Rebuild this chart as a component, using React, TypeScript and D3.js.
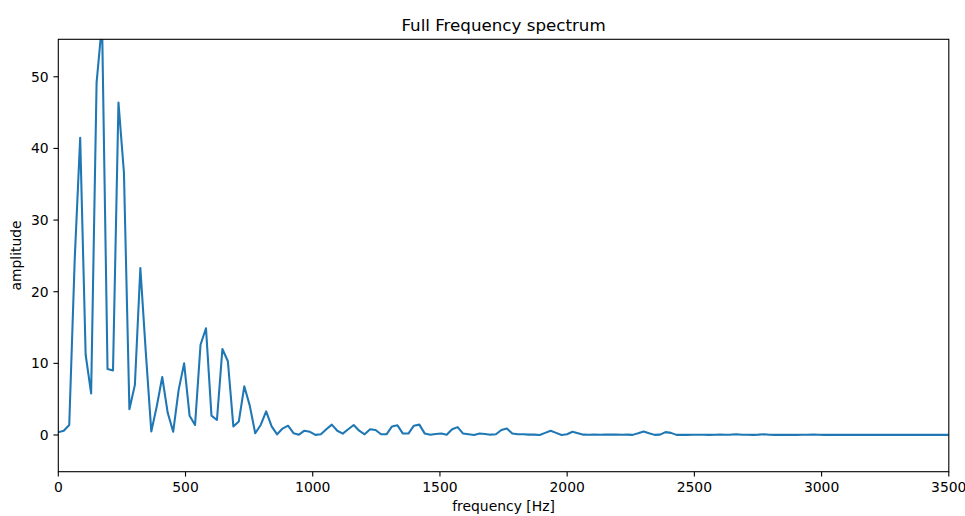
import React from "react";
import * as d3 from "d3";

const FREQ_STEP = 21.5;
const amplitudes: number[] = [
  0.4, 0.6, 1.4, 24.5, 41.5, 11.2, 5.8, 49.2, 57.5, 9.2,
  9.0, 46.4, 36.6, 3.6, 7.0, 23.3, 11.5, 0.5, 4.0, 8.1,
  3.1, 0.45, 6.3, 10.0, 2.7, 1.4, 12.6, 14.9, 2.7, 2.1,
  12.0, 10.3, 1.2, 1.9, 6.8, 4.1, 0.25, 1.4, 3.3, 1.2,
  0.1, 0.9, 1.3, 0.25, 0.05, 0.6, 0.45, 0.02, 0.1, 0.8,
  1.45, 0.6, 0.2, 0.8, 1.4, 0.6, 0.1, 0.8, 0.7, 0.1,
  0.1, 1.2, 1.35, 0.2, 0.2, 1.3, 1.45, 0.2, 0.05, 0.15,
  0.2, 0.05, 0.8, 1.1, 0.2, 0.1, 0.0, 0.2, 0.15, 0.05,
  0.1, 0.7, 0.9, 0.2, 0.1, 0.1, 0.05, 0.05, 0.0, 0.3,
  0.6, 0.3, 0.0, 0.1, 0.45, 0.25, 0.05, 0.03, 0.05, 0.03,
  0.05, 0.08, 0.05, 0.03, 0.05, 0.02, 0.25, 0.5, 0.25, 0.02,
  0.05, 0.4, 0.3, 0.02, 0.03, 0.02, 0.03, 0.04, 0.03, 0.02,
  0.03, 0.05, 0.04, 0.06, 0.1, 0.04, 0.03, 0.02, 0.05, 0.1,
  0.04, 0.02, 0.02, 0.03, 0.02, 0.02, 0.03, 0.04, 0.08, 0.03,
  0.02, 0.02, 0.02, 0.03, 0.02, 0.02, 0.02, 0.03, 0.02, 0.02,
  0.02, 0.02, 0.02, 0.03, 0.02, 0.02, 0.02, 0.02, 0.02, 0.02,
  0.02, 0.02, 0.02, 0.02,
];
const xTicks = [0, 500, 1000, 1500, 2000, 2500, 3000, 3500];
const yTicks = [0, 10, 20, 30, 40, 50];
const title = "Full Frequency spectrum";
const xLabel = "frequency [Hz]";
const yLabel = "amplitude";

const W = 965;
const H = 516;
const L = 58.3, R = 948.8, T = 39.3, B = 471.7;
const FONT = "'DejaVu Sans', sans-serif";

export default function App() {
  const x = d3.scaleLinear().domain([0, 3500]).range([L, R]);
  const y = d3.scaleLinear().domain([-5.12, 55.23]).range([B, T]);
  const pts = amplitudes.map((a, i) => [i * FREQ_STEP, a] as [number, number]);
  const line = d3.line<[number, number]>().x((d) => x(d[0])).y((d) => y(d[1]));
  return (
    <svg width={W} height={H} style={{ position: "absolute", left: 0, top: 0, background: "#fff" }} fontFamily={FONT}>
      <rect x={0} y={0} width={W} height={H} fill="#fff" />
      <defs>
        <clipPath id="plotclip">
          <rect x={L} y={T} width={R - L} height={B - T} />
        </clipPath>
      </defs>
      <path d={line(pts) || ""} fill="none" stroke="#1f77b4" strokeWidth={2.08} strokeLinejoin="round" strokeLinecap="square" clipPath="url(#plotclip)" />
      <rect x={L} y={T} width={R - L} height={B - T} fill="none" stroke="#000" strokeWidth={1.1} />
      {xTicks.map((t) => (
        <g key={"x" + t}>
          <line x1={x(t)} x2={x(t)} y1={B} y2={B + 4.86} stroke="#000" strokeWidth={1.1} />
          <text x={x(t)} y={B + 19.8} textAnchor="middle" fontSize={13.9} fill="#000">{t}</text>
        </g>
      ))}
      {yTicks.map((t) => (
        <g key={"y" + t}>
          <line x1={L - 4.86} x2={L} y1={y(t)} y2={y(t)} stroke="#000" strokeWidth={1.1} />
          <text x={L - 9.7} y={y(t)} dy="0.36em" textAnchor="end" fontSize={13.9} fill="#000">{t}</text>
        </g>
      ))}
      <text x={(L + R) / 2} y={31} textAnchor="middle" fontSize={16.7} fill="#000">{title}</text>
      <text x={(L + R) / 2} y={511} textAnchor="middle" fontSize={13.9} fill="#000">{xLabel}</text>
      <text transform={`translate(21,${(T + B) / 2}) rotate(-90)`} textAnchor="middle" fontSize={13.9} fill="#000">{yLabel}</text>
    </svg>
  );
}
